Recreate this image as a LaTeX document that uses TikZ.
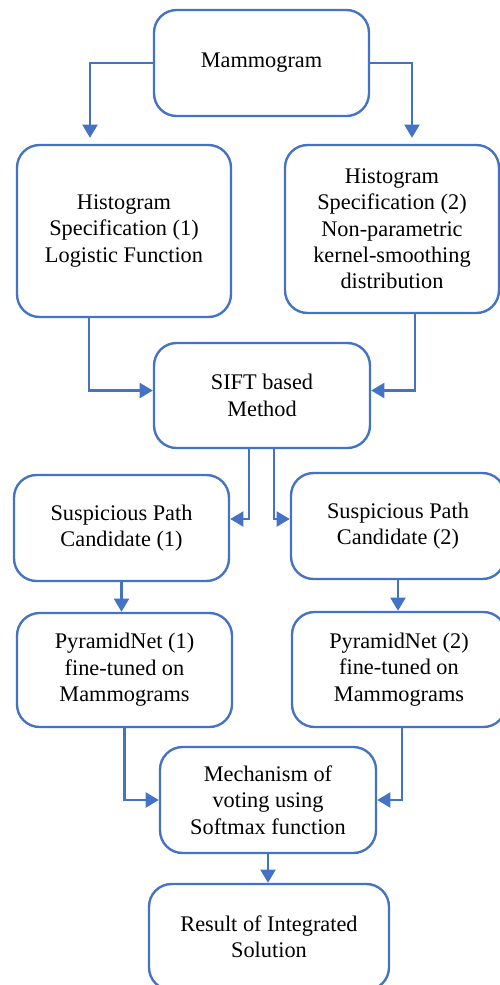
\documentclass[tikz,border=0pt]{standalone}
\usepackage{fontspec}
\setmainfont{Liberation Serif}
\usepackage{xcolor}
\usepackage{tikz}
\usetikzlibrary{calc}
\usetikzlibrary{arrows.meta}
\definecolor{flowblue}{RGB}{68,114,196}

\begin{document}
\begin{tikzpicture}[x=0.02cm,y=-0.02cm,
  box/.style={draw=flowblue,line width=1.35pt,rounded corners=0.45cm,align=center,
    inner sep=0pt,font=\fontsize{12.7}{15}\selectfont},
  conn/.style={draw=flowblue,line width=1.35pt,-{Triangle[width=8.5pt,length=7.5pt]}}]
\useasboundingbox (0,0) rectangle (500,985);
\clip (0,0) rectangle (500,985);

% boxes
\node[box,minimum width=4.3cm,minimum height=2.12cm] (mam) at (261.5,63) {Mammogram};
\node[box,minimum width=4.28cm,minimum height=3.44cm] (hs1) at (124,231) {Histogram\\Specification (1)\\Logistic Function};
\node[box,minimum width=4.28cm,minimum height=3.36cm] (hs2) at (392,229) {Histogram\\Specification (2)\\Non-parametric\\kernel-smoothing\\distribution};
\node[box,minimum width=4.32cm,minimum height=2.1cm] (sift) at (262,395.5) {SIFT based\\Method};
\node[box,minimum width=4.3cm,minimum height=2.12cm] (spc1) at (121.5,528) {Suspicious Path\\Candidate (1)};
\node[box,minimum width=4.28cm,minimum height=2.12cm] (spc2) at (398,526) {Suspicious Path\\Candidate (2)};
\node[box,minimum width=4.3cm,minimum height=2.28cm] (py1) at (124.5,670) {PyramidNet (1)\\fine-tuned on\\Mammograms};
\node[box,minimum width=4.28cm,minimum height=2.3cm] (py2) at (399,669.5) {PyramidNet (2)\\fine-tuned on\\Mammograms};
\node[box,minimum width=4.32cm,minimum height=2.12cm] (mech) at (268,800) {Mechanism of\\voting using\\Softmax function};
\node[box,minimum width=4.8cm,minimum height=2.12cm] (res) at (269,937) {Result of Integrated\\Solution};

% connectors
\draw[conn] (mam.west) -| ([xshift=-0.68cm,yshift=0.12cm]hs1.north);
\draw[conn] (mam.east) -| ([xshift=0.4cm,yshift=0.12cm]hs2.north);
\draw[conn] ([xshift=-0.7cm]hs1.south) |- ([yshift=0.1cm]sift.west);
\draw[conn] ([xshift=0.46cm]hs2.south) |- ([yshift=0.1cm]sift.east);
\draw[conn] ([xshift=-0.26cm]sift.south) |- ([yshift=0.18cm]spc1.east);
\draw[conn] ([xshift=0.24cm]sift.south) |- ([yshift=0.14cm]spc2.west);
\draw[conn] (spc1.south) -- (spc1.south |- py1.north);
\draw[conn] (spc2.south) -- (spc2.south |- py2.north);
\draw[conn] (py1.south) |- (mech.west);
\draw[conn] ([xshift=0.06cm]py2.south) |- (mech.east);
\draw[conn] (mech.south) -- (mech.south |- res.north);
\end{tikzpicture}
\end{document}
